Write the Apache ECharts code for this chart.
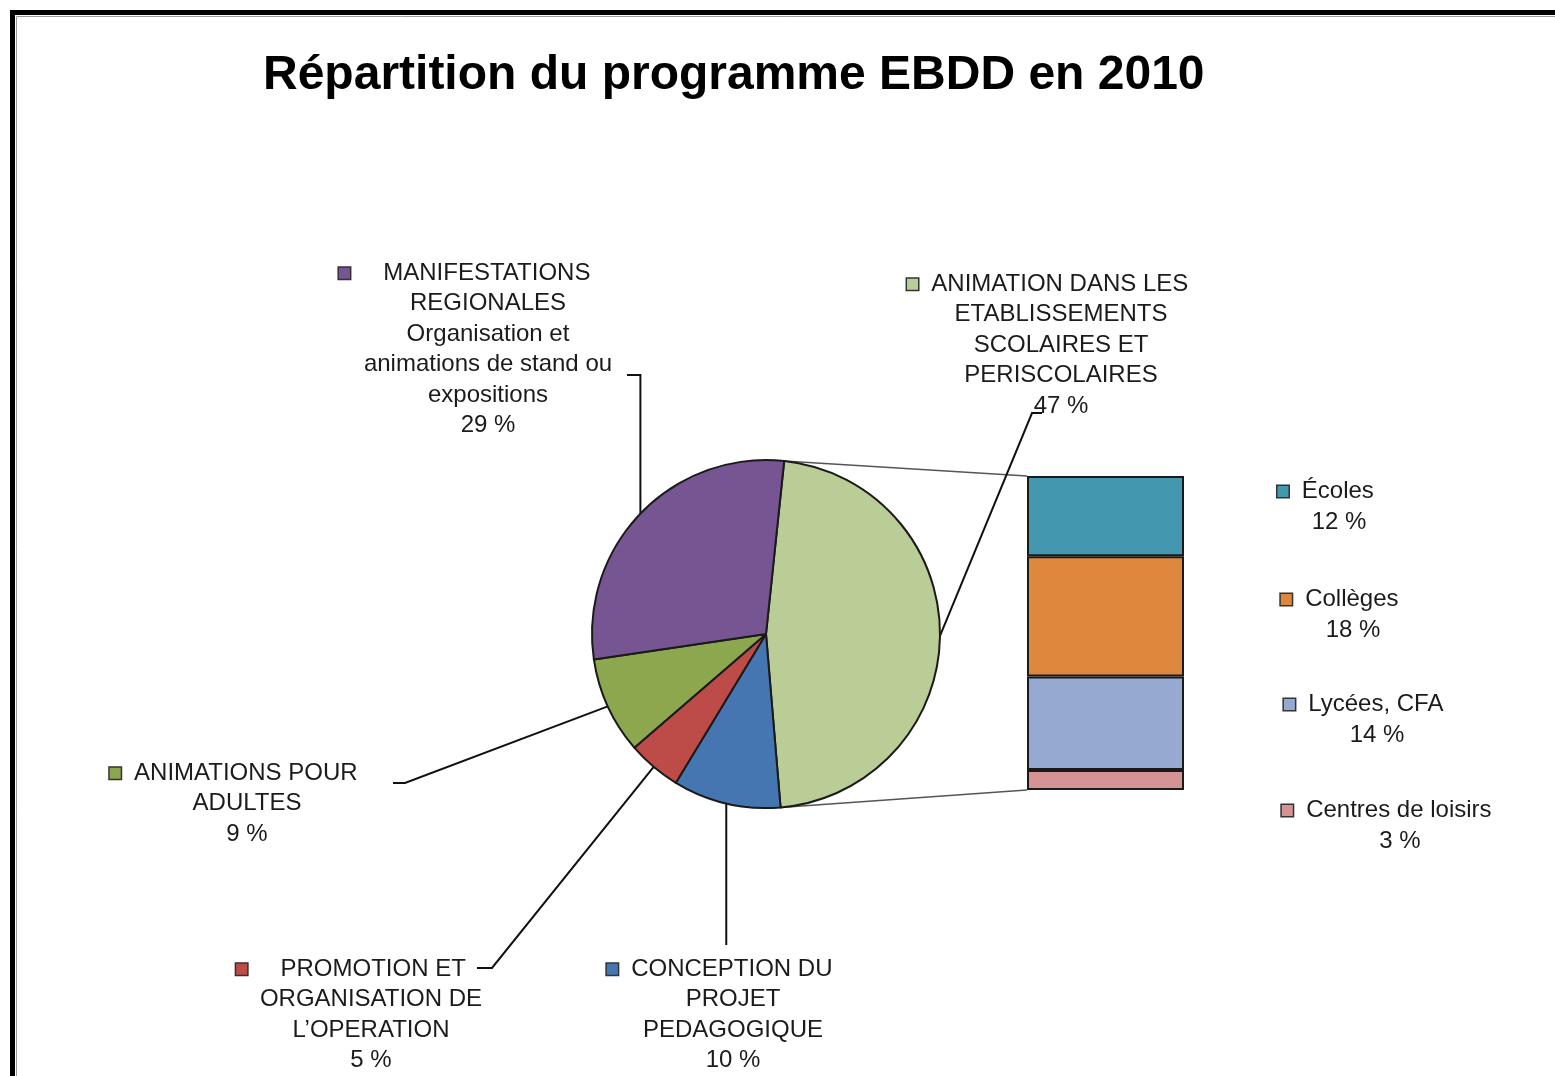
<!DOCTYPE html>
<html><head><meta charset="utf-8">
<script src="https://cdn.jsdelivr.net/npm/echarts@6/dist/echarts.min.js"></script>
<style>html,body{margin:0;padding:0;background:#fff}#c{width:1555px;height:1076px}</style>
</head><body><div id="c"></div>
<script>
// ---- data ----
const chartTitle = 'Répartition du programme EBDD en 2010';
const pieNames = [
  'ANIMATION DANS LES\nETABLISSEMENTS\nSCOLAIRES ET\nPERISCOLAIRES',
  'CONCEPTION DU\nPROJET\nPEDAGOGIQUE',
  'PROMOTION ET\nORGANISATION DE\nL\u2019OPERATION',
  'ANIMATIONS POUR\nADULTES',
  'MANIFESTATIONS\nREGIONALES\nOrganisation et\nanimations de stand ou\nexpositions'
];
const pieValues = [47, 10, 5, 9, 29];
const subNames = ['Écoles', 'Collèges', 'Lycées, CFA', 'Centres de loisirs'];
const subValues = [12, 18, 14, 3];

// ---- styles / layout ----
const pieColors = ['#BACD96', '#4676B1', '#BD4B48', '#8DA74F', '#765592'];
const subColors = ['#4398B0', '#DE883E', '#95A9D1', '#D69394'];
const FONT = '"Liberation Sans", Arial, sans-serif';
const pieLabelPos = [
  {x: 1061, y: 269, gap: '  ', trail: '    ', bend: [1032, 413], end: [1042, 413]},
  {x: 733, y: 954, gap: '  ', trail: '    ', bend: [null, 945], end: [null, 945]},
  {x: 371, y: 954, gap: '     ', trail: '      ', bend: [492, 968], end: [477, 968]},
  {x: 247, y: 758, gap: '  ', trail: '    ', bend: [405, 783], end: [393, 783]},
  {x: 488, y: 258, gap: '     ', trail: '       ', bend: [null, 375], end: [627, 375]}
];
const barLabelPos = [
  {x: 1339, y: 507}, {x: 1353, y: 615}, {x: 1377, y: 720}, {x: 1400, y: 826}
];

function marker(color) {
  return {width: 11, height: 11, backgroundColor: color, borderColor: '#333', borderWidth: 1.5};
}
const pieRich = {};
pieColors.forEach((c, i) => { pieRich['m' + i] = marker(c); });
const barRich = {};
subColors.forEach((c, i) => { barRich['m' + i] = marker(c); });

const chart = echarts.init(document.getElementById('c'), null, {renderer: 'canvas'});

const sumSub = subValues.reduce((a, b) => a + b, 0);

const barSeries = [];
for (let i = subNames.length - 1; i >= 0; i--) {
  barSeries.push({
    type: 'bar', name: subNames[i], stack: 'sub', xAxisIndex: 0, yAxisIndex: 0,
    barWidth: '100%', silent: true,
    data: [subValues[i]],
    itemStyle: {color: subColors[i], borderColor: '#1a1a1a', borderWidth: 2},
    label: {
      show: true, position: 'right',
      fontSize: 24, fontFamily: FONT, color: '#1b1b1b', lineHeight: 31,
      rich: barRich,
      formatter: () => '{m' + i + '|}  ' + subNames[i] + '    \n' + subValues[i] + ' %'
    },
    labelLayout: () => ({x: barLabelPos[i].x, y: barLabelPos[i].y, align: 'center', verticalAlign: 'middle'})
  });
}

const baseGraphic = [
  {id: 'frame', type: 'rect', silent: true, z: 100,
   shape: {x: 12.5, y: 12.5, width: 1700, height: 1200},
   style: {fill: 'none', stroke: '#000', lineWidth: 5}},
  {id: 'frame2', type: 'rect', silent: true, z: 100,
   shape: {x: 16.5, y: 16.5, width: 1700, height: 1200},
   style: {fill: 'none', stroke: '#9a9a9a', lineWidth: 1}}
];

const option = {
  animation: false,
  backgroundColor: '#fff',
  title: {
    text: chartTitle, left: 263, top: 52, padding: 0,
    textStyle: {fontSize: 48, fontWeight: 'bold', fontFamily: FONT, color: '#000'}
  },
  grid: {left: 1027, top: 476, width: 157, height: 314},
  xAxis: {type: 'category', data: ['sub'], show: false},
  yAxis: {type: 'value', min: 0, max: sumSub, show: false},
  graphic: baseGraphic,
  series: [
    {
      type: 'pie', center: [766, 634], radius: 174, startAngle: 84, clockwise: true,
      avoidLabelOverlap: false, silent: true,
      data: pieValues.map((v, i) => ({value: v, name: pieNames[i], itemStyle: {color: pieColors[i]}})),
      itemStyle: {borderColor: '#1a1a1a', borderWidth: 2},
      label: {
        show: true, position: 'outside',
        fontSize: 24, fontFamily: FONT, color: '#1b1b1b', lineHeight: 30.5,
        rich: pieRich,
        formatter: (p) => {
          const L = pieLabelPos[p.dataIndex];
          const lines = pieNames[p.dataIndex].split('\n');
          lines[0] = '{m' + p.dataIndex + '|}' + L.gap + lines[0] + L.trail;
          return lines.join('\n') + '\n' + pieValues[p.dataIndex] + ' %';
        }
      },
      labelLine: {show: true, length: 10, length2: 10, lineStyle: {color: '#111', width: 2}},
      labelLayout: (p) => {
        const L = pieLabelPos[p.dataIndex];
        const res = {x: L.x, y: L.y, align: 'center', verticalAlign: 'top'};
        const pts = p.labelLinePoints;
        if (pts && pts[0]) {
          const p0 = pts[0];
          res.labelLinePoints = [
            [p0[0], p0[1]],
            [L.bend[0] == null ? p0[0] : L.bend[0], L.bend[1]],
            [L.end[0] == null ? p0[0] : L.end[0], L.end[1]]
          ];
        }
        return res;
      }
    }
  ].concat(barSeries)
};
chart.setOption(option);

// connector lines from pie "other" slice edges to the stacked bar
try {
  const lay = chart.getModel().getSeriesByIndex(0).getData().getItemLayout(0);
  const pTop = [lay.cx + lay.r * Math.cos(lay.startAngle), lay.cy + lay.r * Math.sin(lay.startAngle)];
  const pBot = [lay.cx + lay.r * Math.cos(lay.endAngle), lay.cy + lay.r * Math.sin(lay.endAngle)];
  const rect = chart.getModel().getComponent('grid', 0).coordinateSystem.getRect();
  const yTop = chart.convertToPixel({gridIndex: 0}, [0, sumSub])[1];
  const yBot = chart.convertToPixel({gridIndex: 0}, [0, 0])[1];
  chart.setOption({graphic: baseGraphic.concat([
    {id: 'c1', type: 'line', silent: true, z: 1,
     shape: {x1: pTop[0], y1: pTop[1], x2: rect.x, y2: yTop},
     style: {stroke: '#555', lineWidth: 1.5}},
    {id: 'c2', type: 'line', silent: true, z: 1,
     shape: {x1: pBot[0], y1: pBot[1], x2: rect.x, y2: yBot},
     style: {stroke: '#555', lineWidth: 1.5}}
  ])});
} catch (e) { console.error(e); }
</script>
</body></html>
